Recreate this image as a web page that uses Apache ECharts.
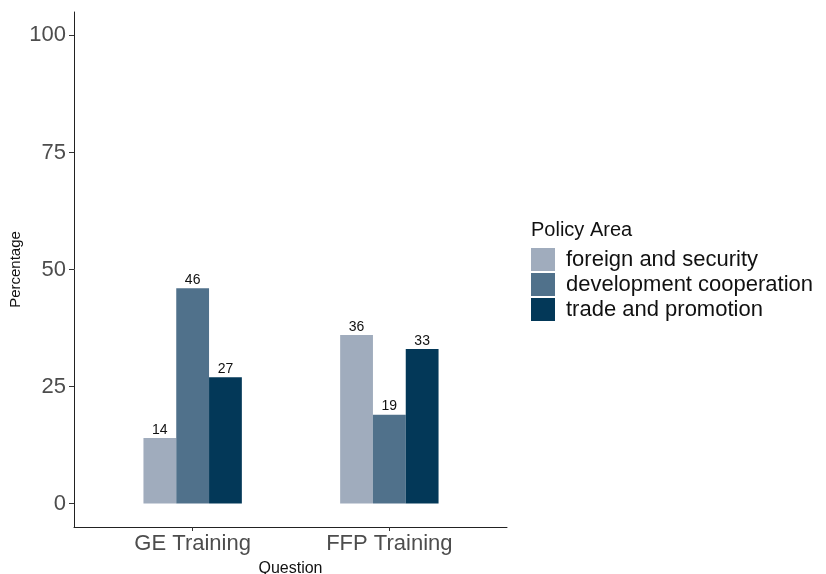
<!DOCTYPE html>
<html>
<head>
<meta charset="utf-8">
<script src="https://cdn.jsdelivr.net/npm/echarts@6/dist/echarts.min.js"></script>
<style>
  html, body { margin: 0; padding: 0; background: #fff; }
  #main { width: 826px; height: 574px; }
</style>
</head>
<body>
<div id="main"></div>
<script>
const categories = ["GE Training", "FFP Training"];
const seriesNames = ["foreign and security", "development cooperation", "trade and promotion"];
const foreignSecurity = [14, 36];
const devCooperation = [46, 19];
const tradePromotion = [27, 33];
const yTicks = [0, 25, 50, 75, 100];

const colors = ["#A0ACBD", "#50718B", "#033858"];
const font = "Liberation Sans, Arial, sans-serif";

function barSeries(name, data, color) {
  return {
    name: name,
    type: "bar",
    xAxisIndex: 1,
    yAxisIndex: 1,
    data: data,
    barWidth: 32.8,
    barGap: "0%",
    itemStyle: { color: color },
    label: {
      show: true,
      position: "top",
      distance: 1,
      color: "#111",
      fontFamily: font,
      fontSize: 14
    }
  };
}

const option = {
  animation: false,
  backgroundColor: "#fff",
  color: colors,
  title: {
    text: "Policy Area",
    left: 531,
    top: 220,
    padding: 0,
    textStyle: { fontFamily: font, fontSize: 20, fontWeight: "normal", color: "#111" }
  },
  legend: {
    orient: "vertical",
    left: 531,
    top: 248,
    padding: 0,
    icon: "rect",
    itemWidth: 24,
    itemHeight: 23,
    itemGap: 2,
    data: seriesNames,
    textStyle: { fontFamily: font, fontSize: 22, color: "#111", lineHeight: 23, padding: [0, 0, 0, 6] }
  },
  grid: [
    { left: 74, width: 433, top: 12, bottom: 47, outerBoundsMode: "none", containLabel: false },
    { left: 94.3, width: 393.4, top: 12, bottom: 47, outerBoundsMode: "none", containLabel: false }
  ],
  xAxis: [
    {
      type: "value",
      gridIndex: 0,
      min: 0,
      max: 1,
      name: "Question",
      nameLocation: "middle",
      nameGap: 34,
      nameMoveOverlap: false,
      nameTextStyle: { fontFamily: font, fontSize: 16, color: "#111" },
      axisLine: { show: true, onZero: false, lineStyle: { color: "#222", width: 1 } },
      axisTick: { show: false },
      axisLabel: { show: false },
      splitLine: { show: false }
    },
    {
      type: "category",
      gridIndex: 1,
      data: categories,
      axisLine: { show: false, onZero: false },
      axisTick: { show: true, alignWithLabel: true, length: 4, lineStyle: { color: "#333" } },
      axisLabel: { fontFamily: font, fontSize: 22, color: "#4D4D4D", margin: 6 },
      splitLine: { show: false }
    }
  ],
  yAxis: [
    {
      type: "value",
      gridIndex: 0,
      min: -5,
      max: 105,
      name: "Percentage",
      nameLocation: "middle",
      nameGap: 51,
      nameMoveOverlap: false,
      nameRotate: 90,
      nameTextStyle: { fontFamily: font, fontSize: 15, color: "#111" },
      axisLine: { show: true, onZero: false, lineStyle: { color: "#222", width: 1 } },
      axisTick: { show: true, length: 5, customValues: yTicks, lineStyle: { color: "#333" } },
      axisLabel: { fontFamily: font, fontSize: 22, color: "#4D4D4D", margin: 8, customValues: yTicks },
      splitLine: { show: false }
    },
    {
      type: "value",
      gridIndex: 1,
      min: -5,
      max: 105,
      show: false,
      splitLine: { show: false }
    }
  ],
  series: [
    barSeries(seriesNames[0], foreignSecurity, colors[0]),
    barSeries(seriesNames[1], devCooperation, colors[1]),
    barSeries(seriesNames[2], tradePromotion, colors[2])
  ]
};

const chart = echarts.init(document.getElementById("main"));
chart.setOption(option);
window.onresize = function () { chart.resize(); };
</script>
</body>
</html>
